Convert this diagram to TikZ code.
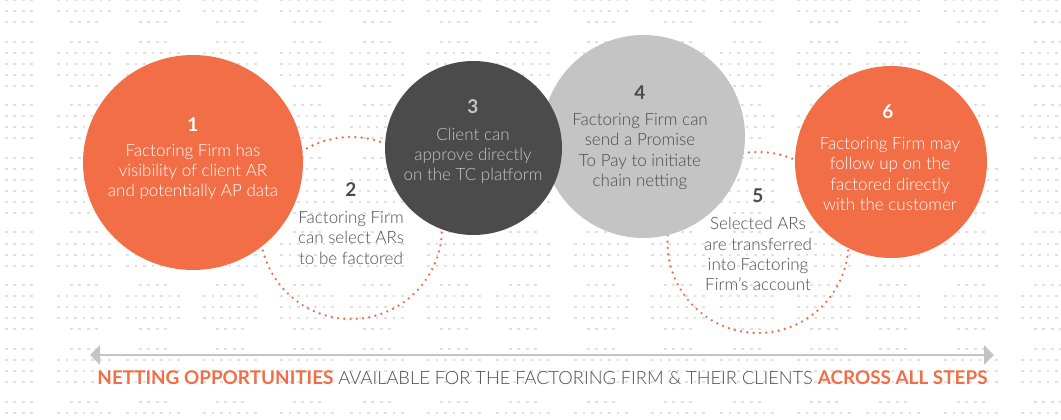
\documentclass[tikz,border=0pt]{standalone}
\usepackage{fontspec}
\setmainfont{Lato Light}[BoldFont=Lato Bold]
\usetikzlibrary{arrows.meta,shapes.geometric}
\definecolor{stepOrange}{HTML}{F26E46}
\definecolor{stepDark}{HTML}{4B4B4B}
\definecolor{stepGray}{HTML}{C4C4C4}
\definecolor{stepDot}{HTML}{E3DFE0}
\tikzset{
  stepdisc/.style={shape=ellipse,inner sep=0pt,fill=#1},
  stepring/.style={shape=circle,inner sep=0pt,draw=stepOrange,line width=2.6pt,line cap=round,dash pattern=on 0pt off 6.3pt},
  stepnum/.style={font=\fontsize{19}{20}\selectfont\bfseries,text=#1},
  steptext/.style={font=\fontsize{17}{20.2}\selectfont,align=center,text=#1},
  griddot/.style={fill=stepDot},
}
\begin{document}
\begin{tikzpicture}[x=1pt,y=-1pt]
      \useasboundingbox (0,0) rectangle (1061,420);
      \def\blobs{19,84,153,230,307,377,454,523,601,678,747,824,893,971,1048}
      % Draw background dots
      \foreach \cx in \blobs {
        \foreach \ry in {0,11,53,64,75,116,127,169,180,191,202,244,255,266,296,307,318,360,371,382,413} {
          \foreach \j in {-3,...,3} {
            \ifnum\cx>20
              \fill [griddot] ({\cx+\j*8.5-1.35},\ry-1.35) rectangle ++(2.7,2.7);
            \fi
          }
        }
        \foreach \ry in {22,42,86,105,138,158,213,232,285,329,349,402} {
          \foreach \j in {-1.5,-0.5,0.5,1.5} {
            \fill [griddot] ({\cx+\j*8.5-1.35},\ry-1.35) rectangle ++(2.7,2.7);
          }
        }
      }
      \foreach \ry in {0,11,53,64,75,116,127,169,180,191,202,244,255,266,296,307,318,360,371,382,413} {
        \foreach \j in {-1.5,-0.5,0.5,1.5} {
          \fill [griddot] ({19+\j*8.5-1.35},\ry-1.35) rectangle ++(2.7,2.7);
        }
      }
      % Draw dotted rings
      \node [stepring,minimum size=182] (ring2) at (351,228) {};
      \node [stepring,minimum size=181] (ring5) at (758,242.5) {};
      % Draw discs
      \node [stepdisc=stepOrange,minimum width=220,minimum height=215] (disc1) at (193,162.5) {};
      \node [stepdisc=stepGray,minimum width=203,minimum height=203] (disc4) at (643.5,136.5) {};
      \node [stepdisc=stepDark,minimum width=177,minimum height=174] (disc3) at (473.5,148) {};
      \node [stepdisc=stepOrange,minimum width=192,minimum height=192] (disc6) at (891,162) {};
      % Numbers
      \node [stepnum=white] (num1) at (193,125) {1};
      \node [stepnum=stepDark] (num2) at (351,190) {2};
      \node [stepnum=stepGray] (num3) at (473,107) {3};
      \node [stepnum=stepDark] (num4) at (640,93) {4};
      \node [stepnum=stepDark] (num5) at (758,196) {5};
      \node [stepnum=white] (num6) at (888,112) {6};
      % Step texts
      \node [steptext=white] (text1) at (193,172) {Factoring Firm has\\visibility of client AR\\and potentially AP data};
      \node [steptext=stepDark] (text2) at (351,238) {Factoring Firm\\can select ARs\\to be factored};
      \node [steptext=stepGray] (text3) at (473,156) {Client can\\approve directly\\on the TC platform};
      \node [steptext=stepDark] (text4) at (640,151.5) {Factoring Firm can\\send a Promise\\To Pay to initiate\\chain netting};
      \node [steptext=stepDark] (text5) at (758,254) {Selected ARs\\are transferred\\into Factoring\\Firm’s account};
      \node [steptext=white] (text6) at (890,174) {Factoring Firm may\\follow up on the\\factored directly\\with the customer};
      % Bottom arrow and caption
      \coordinate (arrowL) at (90,355);
      \coordinate (arrowR) at (994,355);
      \draw [{Triangle[width=19pt,length=10pt]}-{Triangle[width=19pt,length=10pt]},draw=stepGray,fill=stepGray,line width=2.4pt] (arrowL) -- (arrowR);
      \node [font=\fontsize{18.25}{22}\selectfont,text=stepDark] (caption) at (542.5,378) {\textcolor{stepOrange}{\fontsize{18.9}{22}\selectfont\textbf{NETTING OPPORTUNITIES}} AVAILABLE FOR THE FACTORING FIRM \& THEIR CLIENTS \textcolor{stepOrange}{\fontsize{18.9}{22}\selectfont\textbf{ACROSS ALL STEPS}}};
\end{tikzpicture}
\end{document}
